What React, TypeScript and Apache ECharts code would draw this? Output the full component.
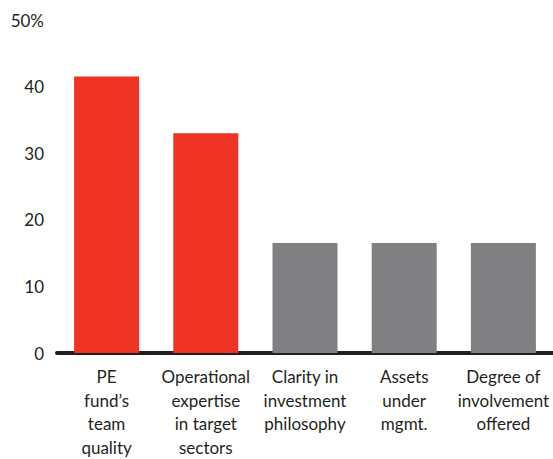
import React, { useEffect, useRef } from "react";
import * as echarts from "echarts";

const categories = [
  "PE\nfund’s\nteam\nquality",
  "Operational\nexpertise\nin target\nsectors",
  "Clarity in\ninvestment\nphilosophy",
  "Assets\nunder\nmgmt.",
  "Degree of\ninvolvement\noffered",
];
const values = [41.5, 33, 16.5, 16.5, 16.5];
const barColors = ["#EE3224", "#EE3224", "#808083", "#808083", "#808083"];
const yTicks = [0, 10, 20, 30, 40, 50];

export default function App() {
  const ref = useRef<HTMLDivElement>(null);
  useEffect(() => {
    const chart = echarts.init(ref.current!, null, { renderer: "svg" });
    chart.setOption({
      animation: false,
      grid: { left: 57, right: 0, top: 20, bottom: 104 },
      xAxis: {
        type: "category",
        data: categories,
        axisLine: { show: true, lineStyle: { color: "#231f20", width: 4 } },
        axisTick: { show: false },
        axisLabel: {
          interval: 0,
          margin: 12,
          color: "#231f20",
          fontSize: 17,
          lineHeight: 23.5,
          fontFamily: "Lato",
        },
      },
      yAxis: {
        type: "value",
        min: yTicks[0],
        max: yTicks[yTicks.length - 1],
        interval: 10,
        axisLine: { show: false },
        axisTick: { show: false },
        splitLine: { show: false },
        axisLabel: {
          margin: 13,
          color: "#231f20",
          fontSize: 17,
          fontFamily: "Lato",
          formatter: (v: number) => (v === 50 ? "50%" : String(v)),
        },
      },
      series: [
        {
          type: "bar",
          barWidth: 65,
          data: values.map((v, i) => ({ value: v, itemStyle: { color: barColors[i] } })),
        },
      ],
    });
    return () => chart.dispose();
  }, []);
  return <div ref={ref} style={{ width: 553, height: 459, position: "absolute", left: 0, top: 0 }} />;
}
